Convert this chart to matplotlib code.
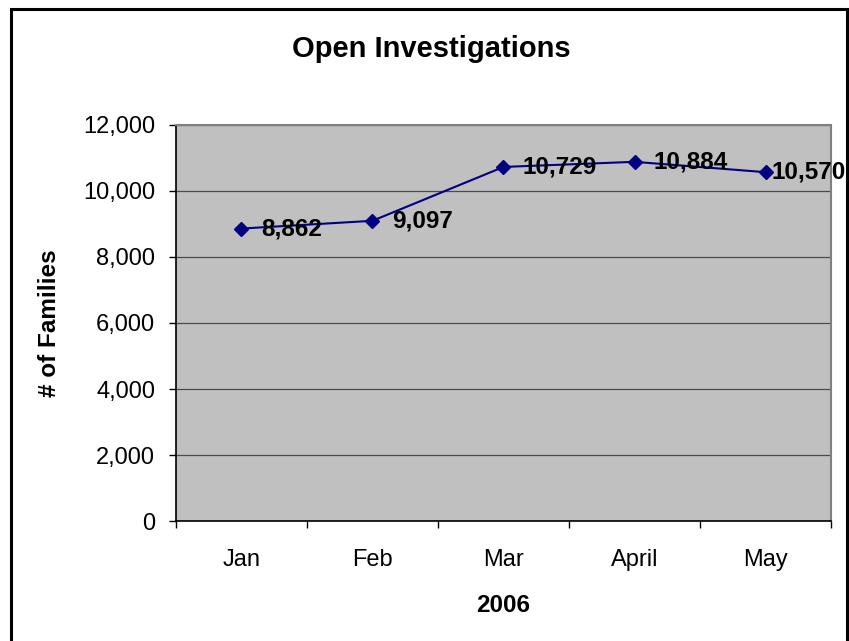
import matplotlib
matplotlib.use('Agg')
import matplotlib.pyplot as plt
from matplotlib.patches import Rectangle
from matplotlib.ticker import FuncFormatter

plt.rcParams['font.family'] = ['Liberation Sans', 'DejaVu Sans']

# Open investigations per month, 2006
months = ['Jan', 'Feb', 'Mar', 'April', 'May']
families = [8862, 9097, 10729, 10884, 10570]
y_ticks = [0, 2000, 4000, 6000, 8000, 10000, 12000]

fig = plt.figure(figsize=(8.49, 6.41), dpi=100)
ax = fig.add_axes([0.2073, 0.1872, 0.7715, 0.6178])
ax.set_facecolor('#C0C0C0')

x = list(range(len(months)))
ax.plot(x, families, color='#000080', linewidth=1.5, marker='D',
        markersize=7.5, markerfacecolor='#000080', markeredgecolor='#000080')

# value labels to the right of each point; the last one is pulled in
# so it stays inside the chart border
for xi, val in zip(x, families):
    dx = 14 if xi < len(months) - 1 else 4
    ax.annotate(f'{val:,}', (xi, val), xytext=(dx, 0), textcoords='offset points',
                ha='left', va='center', fontsize=17.5, fontweight='bold',
                color='black', annotation_clip=False)

ax.set_xlim(-0.5, len(months) - 0.5)
ax.set_ylim(0, 12000)
ax.set_yticks(y_ticks)
ax.yaxis.set_major_formatter(FuncFormatter(lambda v, p: f'{int(v):,}'))
ax.grid(axis='y', color='#4a4a4a', linewidth=0.9)
ax.set_axisbelow(True)

# category ticks sit between the months, labels at the centres
ax.set_xticks([i - 0.5 for i in range(len(months) + 1)])
ax.set_xticklabels([])
ax.set_xticks(x, minor=True)
ax.set_xticklabels(months, minor=True)
ax.tick_params(axis='x', which='major', direction='out', length=5, width=1, color='black')
ax.tick_params(axis='x', which='minor', length=0, pad=20, labelsize=17)
ax.tick_params(axis='y', direction='out', length=5, width=1, pad=10, labelsize=17)

for side in ['top', 'right']:
    ax.spines[side].set_color('#808080')
    ax.spines[side].set_linewidth(1.5)
for side in ['left', 'bottom']:
    ax.spines[side].set_color('black')
    ax.spines[side].set_linewidth(1.2)

ax.set_xlabel('2006', fontsize=17.5, fontweight='bold', labelpad=17)
ax.set_ylabel('# of Families', fontsize=17.5, fontweight='bold', labelpad=16)

fig.text(0.508, 0.9237, 'Open Investigations', ha='center', va='center',
         fontsize=21, fontweight='bold')

# chart border
fig.add_artist(Rectangle((11 / 849, -0.02), (847 - 11) / 849, 1 - 9 / 641 + 0.02,
                         transform=fig.transFigure, fill=False,
                         edgecolor='black', linewidth=2.2))

fig.savefig('out.png', dpi=100)
